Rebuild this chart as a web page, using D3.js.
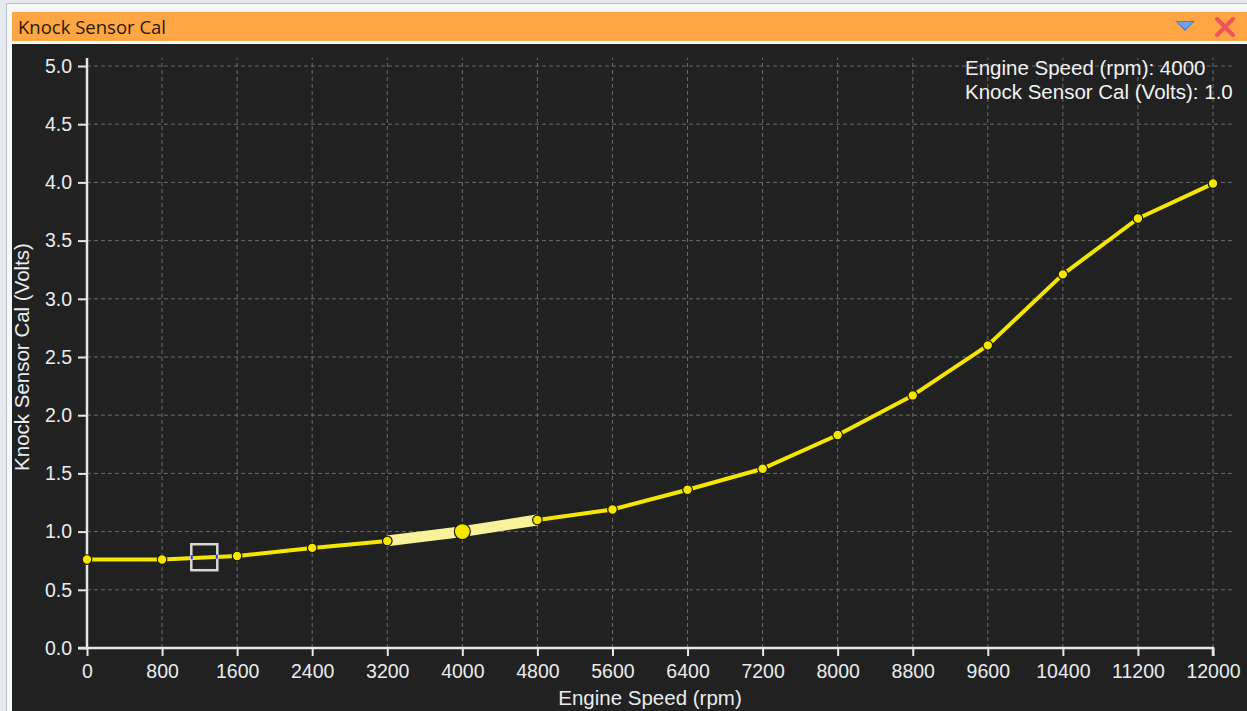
<!DOCTYPE html>
<html>
<head>
<meta charset="utf-8">
<script src="https://cdn.jsdelivr.net/npm/d3@7"></script>
<style>
html,body{margin:0;padding:0;background:#eef1f4;overflow:hidden;}
svg{display:block;}
</style>
</head>
<body>
<svg id="chart" width="1247" height="711"></svg>
<script>
// ---- data ----
const rpm = [0, 800, 1600, 2400, 3200, 4000, 4800, 5600, 6400, 7200, 8000, 8800, 9600, 10400, 11200, 12000];
const volts = [0.76, 0.76, 0.79, 0.86, 0.92, 1.0, 1.1, 1.19, 1.36, 1.54, 1.83, 2.17, 2.60, 3.21, 3.69, 3.99];
const xTicks = [0, 800, 1600, 2400, 3200, 4000, 4800, 5600, 6400, 7200, 8000, 8800, 9600, 10400, 11200, 12000];
const yTicks = [0.0, 0.5, 1.0, 1.5, 2.0, 2.5, 3.0, 3.5, 4.0, 4.5, 5.0];
const selectedIndex = 5;           // 4000 rpm
const cursor = {rpm: 1250, volts: 0.78};
const titleText = "Knock Sensor Cal";
const xLabel = "Engine Speed (rpm)";
const yLabel = "Knock Sensor Cal (Volts)";
const legendLines = ["Engine Speed (rpm): 4000", "Knock Sensor Cal (Volts): 1.0"];

const svg = d3.select("#chart");
const W = 1247, H = 711;

// ---- window frame ----
svg.append("rect").attr("x",0).attr("y",0).attr("width",W).attr("height",H).attr("fill","#e6eaee");
svg.append("rect").attr("x",6).attr("y",3).attr("width",W-6).attr("height",H-3).attr("fill","#b9c3cd");
svg.append("rect").attr("x",7).attr("y",4).attr("width",W-7).attr("height",H-4).attr("fill","#f7f8fa");
// title bar
svg.append("rect").attr("x",12).attr("y",12).attr("width",W-12).attr("height",29).attr("fill","#fea644");
svg.append("text").attr("x",18).attr("y",34).text(titleText)
  .attr("font-family","'Open Sans','Noto Sans',sans-serif").attr("font-size",18.5).attr("fill","#2a1a05");
// dropdown icon
svg.append("path").attr("d","M1175,21 L1195,21 L1185,31 Z").attr("fill","#4a7fd0");
svg.append("path").attr("d","M1177,22 L1193,22 L1185,29 Z").attr("fill","#6ea2ee");
// close icon
svg.append("path").attr("d","M1217,19 L1233,35 M1233,19 L1217,35").attr("stroke","#f0535a").attr("stroke-width",4).attr("stroke-linecap","round");
// dark panel
svg.append("rect").attr("x",12).attr("y",44).attr("width",W-12).attr("height",H-44).attr("fill","#212121");

// ---- scales ----
const x = d3.scaleLinear().domain([0,12000]).range([87,1213]);
const y = d3.scaleLinear().domain([0,5]).range([648,66]);

const axisFont = "'Liberation Sans',Arial,sans-serif";
const textCol = "#e8ecef";

// grid
const grid = svg.append("g");
grid.selectAll("line.gx").data(xTicks.slice(1)).join("line")
  .attr("x1",d=>x(d)).attr("x2",d=>x(d)).attr("y1",y(0)).attr("y2",58)
  .attr("stroke","#6a6a6a").attr("stroke-width",1).attr("stroke-dasharray","4,3");
grid.selectAll("line.gy").data(yTicks.slice(1)).join("line")
  .attr("y1",d=>y(d)).attr("y2",d=>y(d)).attr("x1",x(0)).attr("x2",1235)
  .attr("stroke","#6a6a6a").attr("stroke-width",1).attr("stroke-dasharray","4,3");

// axes
const xAxis = d3.axisBottom(x).tickValues(xTicks).tickSize(8).tickPadding(8).tickFormat(d3.format("d"));
const gx = svg.append("g").attr("transform",`translate(0,${y(0)})`).call(xAxis);
gx.select(".domain").attr("d",`M${x(0)-9},0H${x(12000)}V8`).attr("stroke","#e6e6e6").attr("stroke-width",2.5).attr("fill","none");
gx.selectAll(".tick line").attr("stroke","#e6e6e6").attr("stroke-width",2);
gx.selectAll(".tick text").attr("fill",textCol).attr("font-family",axisFont).attr("font-size",19.5);

const yAxis = d3.axisLeft(y).tickValues(yTicks).tickSize(9).tickPadding(6).tickFormat(d3.format(".1f"));
const gy = svg.append("g").attr("transform",`translate(${x(0)},0)`).call(yAxis);
gy.select(".domain").attr("d",`M0,${y(0)}V58`).attr("stroke","#e6e6e6").attr("stroke-width",2.5).attr("fill","none");
gy.selectAll(".tick line").attr("stroke","#e6e6e6").attr("stroke-width",2);
gy.selectAll(".tick text").attr("fill",textCol).attr("font-family",axisFont).attr("font-size",19.5);

// axis titles
svg.append("text").attr("x",(x(0)+x(12000))/2).attr("y",705).attr("text-anchor","middle")
  .attr("font-family",axisFont).attr("font-size",20.5).attr("fill",textCol).text(xLabel);
svg.append("text").attr("transform",`translate(29,${(y(0)+y(5))/2}) rotate(-90)`).attr("text-anchor","middle")
  .attr("font-family",axisFont).attr("font-size",20.5).attr("fill",textCol).text(yLabel);

// ---- series ----
const pts = rpm.map((r,i)=>({r, v: volts[i]}));
const line = d3.line().x(d=>x(d.r)).y(d=>y(d.v));
svg.append("path").datum(pts).attr("d",line).attr("fill","none")
  .attr("stroke","#f5e600").attr("stroke-width",4).attr("stroke-linejoin","round");
// highlighted segment around selected point
const hl = pts.slice(selectedIndex-1, selectedIndex+2);
svg.append("path").datum(hl).attr("d",line)
  .attr("fill","none").attr("stroke","#f9f29a").attr("stroke-width",11);

svg.append("g").selectAll("circle").data(pts).join("circle")
  .attr("cx",d=>x(d.r)).attr("cy",d=>y(d.v))
  .attr("r",(d,i)=> i===selectedIndex ? 8 : 4.8)
  .attr("fill","#f5e600").attr("stroke","#1a1a00").attr("stroke-width",1.2);

// cursor square
const cx = x(cursor.rpm), cy = y(cursor.volts);
svg.append("rect").attr("x",cx-13).attr("y",cy-13).attr("width",26).attr("height",26)
  .attr("fill","none").attr("stroke","#d8d8d8").attr("stroke-width",2.5);
svg.append("rect").attr("x",cx-13.5).attr("y",cy-2).attr("width",2).attr("height",4).attr("fill","#2040ff");
svg.append("rect").attr("x",cx+11.5).attr("y",cy-2.5).attr("width",2).attr("height",4).attr("fill","#2040ff");

// ---- legend text ----
svg.append("g").selectAll("text").data(legendLines).join("text")
  .attr("x",965).attr("y",(d,i)=>75+i*24)
  .attr("font-family",axisFont).attr("font-size",20.5).attr("fill","#f2f2f2").text(d=>d);
</script>
</body>
</html>
